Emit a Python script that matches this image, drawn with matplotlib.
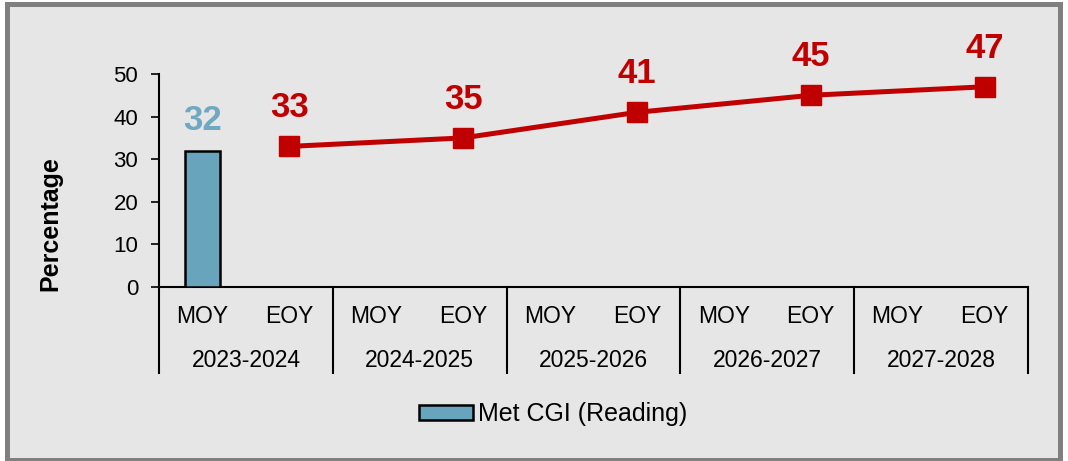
import matplotlib.pyplot as plt
from matplotlib.patches import Rectangle

plt.rcParams['font.family'] = ['Liberation Sans', 'DejaVu Sans']

# data
years = ['2023-2024', '2024-2025', '2025-2026', '2026-2027', '2027-2028']
periods = ['MOY', 'EOY']
bar_label = 'Met CGI (Reading)'
bar_values = [32]            # MOY 2023-2024 only
target_values = [33, 35, 41, 45, 47]   # EOY of each year

BAR_COLOR = '#68a4bc'
BAR_TEXT = '#6fa9c1'
RED = '#c00000'

W, H = 1068, 461
fig = plt.figure(figsize=(W / 100, H / 100), dpi=100)
fig.patch.set_facecolor('white')

# outer gray frame
fig.patches.append(Rectangle((6.5 / W, 1.5 / H), 1053.5 / W, 455 / H,
                             transform=fig.transFigure, facecolor='#e6e6e6',
                             edgecolor='#808080', linewidth=3.6, zorder=-5))

ax = fig.add_axes([159 / W, 1 - 287 / H, 869 / W, 213 / H])
ax.set_facecolor('none')

categories = [(y, p) for y in years for p in periods]
xs = list(range(len(categories)))

bar_x = xs[:len(bar_values)]
bars = ax.bar(bar_x, bar_values, width=0.4, color=BAR_COLOR,
              edgecolor='black', linewidth=1.8, label=bar_label, zorder=3)
for x, v in zip(bar_x, bar_values):
    ax.annotate(str(v), (x, v), xytext=(0, 15), textcoords='offset points',
                ha='center', va='baseline', fontsize=25, fontweight='bold',
                color=BAR_TEXT)

line_x = [i * 2 + 1 for i in range(len(target_values))]
ax.plot(line_x, target_values, color=RED, linewidth=3.6, marker='s',
        markersize=15, zorder=4, clip_on=False)
for x, v in zip(line_x, target_values):
    ax.annotate(str(v), (x, v), xytext=(0, 21), textcoords='offset points',
                ha='center', va='baseline', fontsize=25, fontweight='bold',
                color=RED)

ax.set_xlim(-0.5, len(categories) - 0.5)
ax.set_ylim(0, 50)
ax.set_yticks(range(0, 51, 10))
ax.set_xticks([])
ax.tick_params(axis='y', direction='out', length=6, width=1.2, pad=9,
               labelsize=16, colors='black')

for s in ['top', 'right']:
    ax.spines[s].set_visible(False)
for s in ['bottom', 'left']:
    ax.spines[s].set_linewidth(1.5)
    ax.spines[s].set_color('black')

# two-level category axis
trans = ax.get_xaxis_transform()
for b in range(len(years) + 1):
    ax.plot([b * 2 - 0.5] * 2, [0, -86 / 213], transform=trans, color='black',
            linewidth=1.5, clip_on=False)
for x, (yr, p) in zip(xs, categories):
    ax.text(x, -36 / 213, p, transform=trans, ha='center', va='baseline',
            fontsize=16.5)
for i, yr in enumerate(years):
    ax.text(i * 2 + 0.5, -80 / 213, yr, transform=trans, ha='center',
            va='baseline', fontsize=16.5)

fig.text(50 / W, 1 - 224 / H, 'Percentage', rotation=90, ha='center',
         va='center', fontsize=18, fontweight='bold')

fig.legend(handles=[bars], loc='center', bbox_to_anchor=(553 / W, 1 - 414 / H),
           frameon=False, fontsize=18, handlelength=2.16, handleheight=0.56,
           handletextpad=0.2)

fig.savefig('out.png', dpi=100)
